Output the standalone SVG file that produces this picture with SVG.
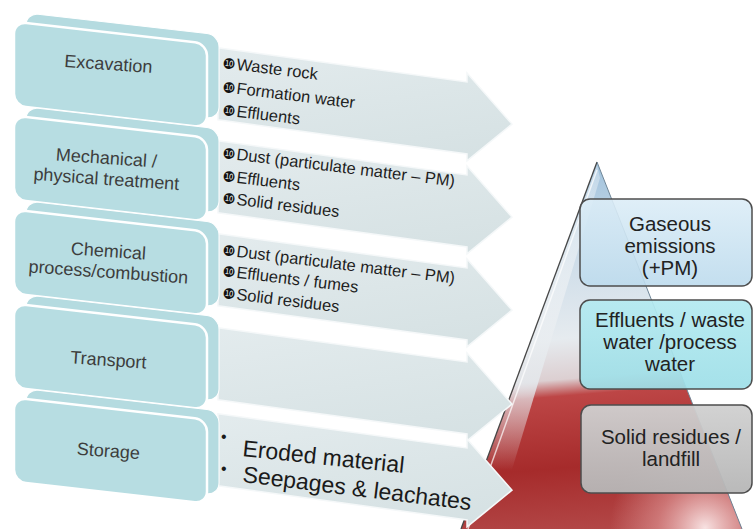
<svg xmlns="http://www.w3.org/2000/svg" width="753" height="529" viewBox="0 0 753 529">
<defs>
<style>
.lbl{font-family:"Liberation Sans",Arial,sans-serif;font-size:18px;fill:#3d3d3d;text-anchor:middle}
.itm{font-family:"Liberation Sans",Arial,sans-serif;font-size:16.5px;fill:#1e1e1e}
.bul{font-family:"DejaVu Sans",sans-serif;font-size:14.5px;fill:#111}
.big{font-family:"Liberation Sans",Arial,sans-serif;font-size:23px;fill:#1a1a1a}
.dot{font-family:"Liberation Sans",Arial,sans-serif;font-size:16px;fill:#1a1a1a}
.rb{font-family:"Liberation Sans",Arial,sans-serif;font-size:20.5px;fill:#222;text-anchor:middle}
.front{fill:#b7dde2;stroke:#ffffff;stroke-width:2.5}
.back{fill:#b5dbe0;stroke:#ffffff;stroke-width:1}
.arr{fill:url(#gArr);stroke:#f5f8f9;stroke-width:1.5}
.rbox{stroke:#4d4d4d;stroke-width:1.5}
</style>
<linearGradient id="gArr" x1="0" y1="0" x2="1" y2="1">
<stop offset="0" stop-color="#e4ecee"/>
<stop offset="1" stop-color="#d4e0e2"/>
</linearGradient>
<linearGradient id="gPyr" gradientUnits="userSpaceOnUse" x1="600" y1="162" x2="630" y2="529">
<stop offset="0" stop-color="#9fc1dc"/>
<stop offset="0.2" stop-color="#c7d9e7"/>
<stop offset="0.47" stop-color="#e6ebef"/>
<stop offset="0.58" stop-color="#dccfd1"/>
<stop offset="0.625" stop-color="#bd4646"/>
<stop offset="0.82" stop-color="#a62b2b"/>
<stop offset="1" stop-color="#b34848"/>
</linearGradient>
<radialGradient id="gShine" gradientUnits="userSpaceOnUse" cx="705" cy="528" r="95">
<stop offset="0" stop-color="#fbeaea" stop-opacity="0.95"/>
<stop offset="0.5" stop-color="#e9a9a9" stop-opacity="0.5"/>
<stop offset="1" stop-color="#e9a9a9" stop-opacity="0"/>
</radialGradient>
<linearGradient id="gEdge" gradientUnits="userSpaceOnUse" x1="0" y1="162" x2="0" y2="470">
<stop offset="0" stop-color="#ffffff" stop-opacity="0.3"/>
<stop offset="0.72" stop-color="#e4e9ed" stop-opacity="0.85"/>
<stop offset="1" stop-color="#e4e9ed" stop-opacity="0"/>
</linearGradient>
<linearGradient id="gA" x1="0" y1="0" x2="0" y2="1">
<stop offset="0" stop-color="#dcedf7"/>
<stop offset="1" stop-color="#bddbed"/>
</linearGradient>
<linearGradient id="gB" x1="0" y1="0" x2="0" y2="1">
<stop offset="0" stop-color="#b4eaf0"/>
<stop offset="1" stop-color="#9edfe8"/>
</linearGradient>
<linearGradient id="gC" x1="0" y1="0" x2="0" y2="1">
<stop offset="0" stop-color="#d0d0d0"/>
<stop offset="1" stop-color="#b6b6b6"/>
</linearGradient>
<path id="arrow" d="M218,18 H467 V9 L512,54 L467,97 V90 H218 Z"/>
</defs>

<rect width="753" height="529" fill="#ffffff"/>

<g id="pyramid">
<polygon points="597,162 461,529 742,529" fill="url(#gPyr)"/>
<polygon points="597,162 461,529 742,529" fill="url(#gShine)"/>
<polygon points="597,165 461,529 494,529 600,178" fill="url(#gEdge)"/>
<line x1="597" y1="170" x2="468" y2="529" stroke="#ffffff" stroke-opacity="0.7" stroke-width="1.5"/>
<line x1="597" y1="162" x2="461" y2="529" stroke="#474747" stroke-width="1.3"/>
<line x1="597" y1="162" x2="742" y2="529" stroke="#6f8596" stroke-width="1"/>
</g>

<g id="connectors">
<use href="#arrow" class="arr" transform="skewY(7.8)"/>
<use href="#arrow" class="arr" transform="skewY(7.8) translate(0 93)"/>
<use href="#arrow" class="arr" transform="skewY(7.8) translate(0 186)"/>
<use href="#arrow" class="arr" transform="skewY(7.8) translate(0 280)"/>
<use href="#arrow" class="arr" transform="skewY(7.8) translate(0 366)"/>
</g>

<g id="out-excavation">
<text class="itm" x="222" y="68" transform="rotate(7 222 68)"><tspan class="bul">❿</tspan><tspan dx="1">Waste rock</tspan></text>
<text class="itm" x="222" y="92" transform="rotate(7 222 92)"><tspan class="bul">❿</tspan><tspan dx="1">Formation water</tspan></text>
<text class="itm" x="222" y="115" transform="rotate(7 222 115)"><tspan class="bul">❿</tspan><tspan dx="1">Effluents</tspan></text>
</g>
<g id="out-mechanical">
<text class="itm" x="222" y="158" transform="rotate(7 222 158)"><tspan class="bul">❿</tspan><tspan dx="1">Dust (particulate matter – PM)</tspan></text>
<text class="itm" x="222" y="181" transform="rotate(7 222 181)"><tspan class="bul">❿</tspan><tspan dx="1">Effluents</tspan></text>
<text class="itm" x="222" y="203" transform="rotate(7 222 203)"><tspan class="bul">❿</tspan><tspan dx="1">Solid residues</tspan></text>
</g>
<g id="out-chemical">
<text class="itm" x="222" y="255" transform="rotate(7 222 255)"><tspan class="bul">❿</tspan><tspan dx="1">Dust (particulate matter – PM)</tspan></text>
<text class="itm" x="222" y="276" transform="rotate(7 222 276)"><tspan class="bul">❿</tspan><tspan dx="1">Effluents / fumes</tspan></text>
<text class="itm" x="222" y="298" transform="rotate(7 222 298)"><tspan class="bul">❿</tspan><tspan dx="1">Solid residues</tspan></text>
</g>
<g id="out-storage">
<text class="dot" x="221" y="442">•</text>
<text class="dot" x="221" y="474">•</text>
<text class="big" x="242" y="456" transform="rotate(6 242 456)">Eroded material</text>
<text class="big" x="242" y="482" transform="rotate(7 242 482)">Seepages &amp; leachates</text>
</g>

<g transform="skewY(6.5)">
<g id="excavation">
<rect class="back" x="26" y="10" width="193" height="84" rx="12"/>
<rect class="front" x="14" y="20" width="193" height="84" rx="12"/>
</g>
<g id="mechanical">
<rect class="back" x="26" y="104" width="193" height="84" rx="12"/>
<rect class="front" x="14" y="114" width="193" height="84" rx="12"/>
</g>
<g id="chemical">
<rect class="back" x="26" y="198" width="193" height="84" rx="12"/>
<rect class="front" x="14" y="208" width="193" height="84" rx="12"/>
</g>
<g id="transport">
<rect class="back" x="26" y="292" width="193" height="84" rx="12"/>
<rect class="front" x="14" y="302" width="193" height="84" rx="12"/>
</g>
<g id="storage">
<rect class="back" x="26" y="386" width="193" height="84" rx="12"/>
<rect class="front" x="14" y="396" width="193" height="84" rx="12"/>
</g>
</g>
<g id="labels">
<text class="lbl" x="108" y="70" transform="rotate(4 108 70)">Excavation</text>
<text class="lbl" x="106" y="164" transform="rotate(4 106 164)">Mechanical /</text>
<text class="lbl" x="106" y="185" transform="rotate(4 106 185)">physical treatment</text>
<text class="lbl" x="108" y="257" transform="rotate(4 108 257)">Chemical</text>
<text class="lbl" x="108" y="278" transform="rotate(4 108 278)">process/combustion</text>
<text class="lbl" x="108" y="366" transform="rotate(4 108 366)">Transport</text>
<text class="lbl" x="108" y="457" transform="rotate(4 108 457)">Storage</text>
</g>

<g id="gaseous">
<rect class="rbox" x="580" y="199" width="172" height="87" rx="10" fill="url(#gA)" fill-opacity="0.9"/>
<text class="rb" x="670" y="231">Gaseous</text>
<text class="rb" x="670" y="253">emissions</text>
<text class="rb" x="670" y="275">(+PM)</text>
</g>
<g id="effluents">
<rect class="rbox" x="580" y="300" width="172" height="89" rx="10" fill="url(#gB)" fill-opacity="0.93"/>
<text class="rb" x="670" y="327">Effluents / waste</text>
<text class="rb" x="670" y="349">water /process</text>
<text class="rb" x="670" y="371">water</text>
</g>
<g id="solid">
<rect class="rbox" x="581" y="405" width="171" height="88" rx="10" fill="url(#gC)" fill-opacity="0.95"/>
<text class="rb" x="671" y="444">Solid residues /</text>
<text class="rb" x="671" y="466">landfill</text>
</g>
</svg>
